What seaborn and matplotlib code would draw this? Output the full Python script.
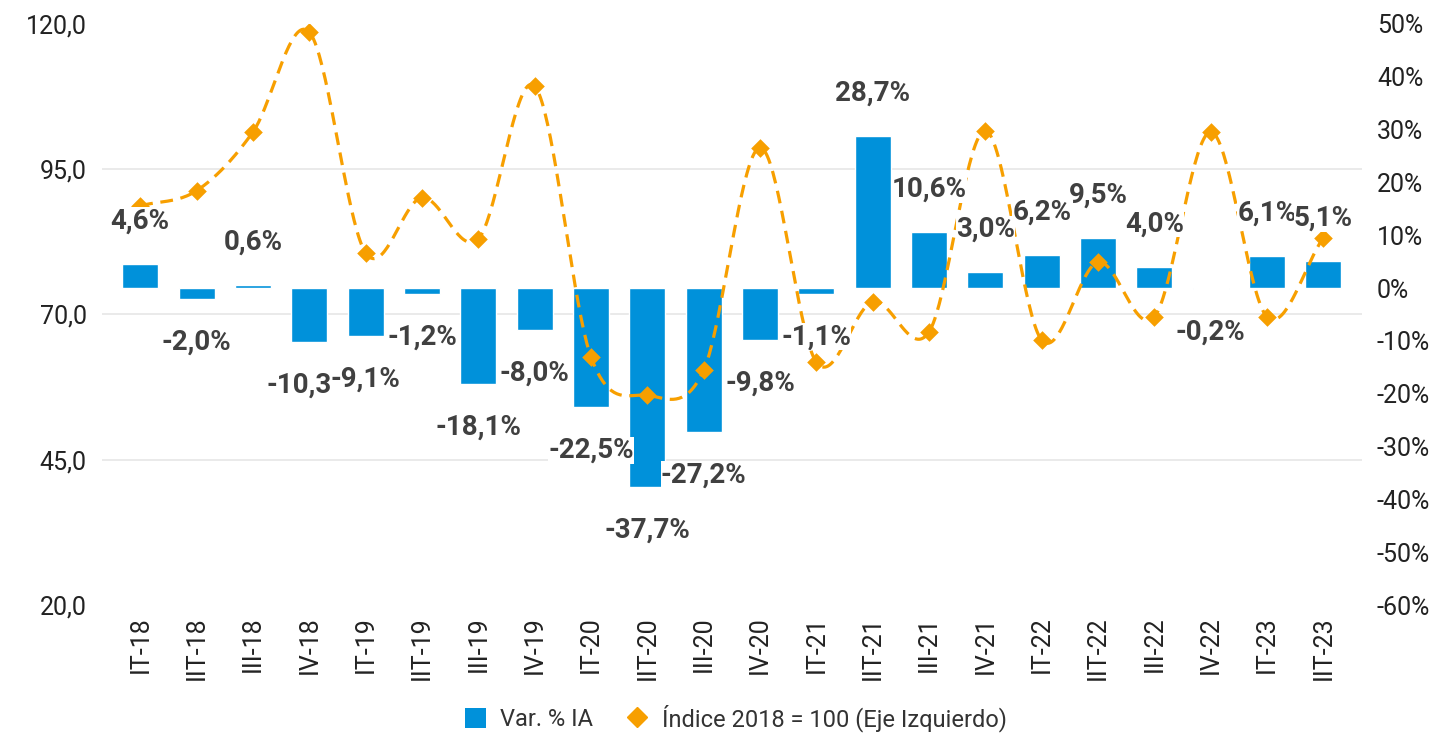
import numpy as np
import matplotlib
matplotlib.use("Agg")
import matplotlib.pyplot as plt
import seaborn as sns
from matplotlib.patches import Patch
from matplotlib.lines import Line2D

# -------------------
# DATA
# -------------------
quarters = ["IT-18", "IIT-18", "III-18", "IV-18",
            "IT-19", "IIT-19", "III-19", "IV-19",
            "IT-20", "IIT-20", "III-20", "IV-20",
            "IT-21", "IIT-21", "III-21", "IV-21",
            "IT-22", "IIT-22", "III-22", "IV-22",
            "IT-23", "IIT-23"]

var_ia = [4.6, -2.0, 0.6, -10.3,
          -9.1, -1.2, -18.1, -8.0,
          -22.5, -37.7, -27.2, -9.8,
          -1.1, 28.7, 10.6, 3.0,
          6.2, 9.5, 4.0, -0.2,
          6.1, 5.1]

indice = [88.7, 91.3, 101.4, 118.6,
          80.6, 90.1, 83.0, 109.3,
          62.7, 56.1, 60.4, 98.7,
          61.8, 72.2, 67.0, 101.6,
          65.6, 79.0, 69.6, 101.4,
          69.6, 83.2]

left_ticks = [20, 45, 70, 95, 120]
right_ticks = list(range(-60, 51, 10))

BLUE = "#0091DA"
ORANGE = "#F79F00"
LABEL = "#404040"
TICK = "#222222"

# -------------------
# STYLE
# -------------------
sns.set_style("white")
plt.rcParams["font.family"] = ["Roboto", "DejaVu Sans"]

fig = plt.figure(figsize=(14.48, 7.47), dpi=100)
ax = fig.add_axes([0.0704, 0.190, 0.870, 0.778])
ax2 = ax.twinx()

# -------------------
# BARS (right axis)
# -------------------
sns.barplot(x=quarters, y=var_ia, ax=ax, color=BLUE, saturation=1,
            width=0.64, zorder=2)
ax.set_xlim(-0.68, len(quarters) - 1 + 0.68)
ax.set_ylim(-60, 50)
ax.set_yticks(right_ticks)
ax.set_yticklabels([f"{v}%" for v in right_ticks])

# gridlines follow the left axis ticks
grid_pos = np.interp(left_ticks, [20, 120], [-60, 50])
ax.set_yticks(grid_pos, minor=True)
ax.grid(False)
ax.grid(which="minor", axis="y", color="#E6E6E6", linewidth=1.2, zorder=0)
ax.set_axisbelow(True)

# -------------------
# LINE (left axis)
# -------------------
# smooth curve like Excel (Catmull-Rom)
x = np.arange(len(indice), dtype=float)
y = np.array(indice)
m = np.gradient(y)
xs, ys = [], []
for i in range(len(y) - 1):
    t = np.linspace(0, 1, 40)
    h00 = 2 * t**3 - 3 * t**2 + 1
    h10 = t**3 - 2 * t**2 + t
    h01 = -2 * t**3 + 3 * t**2
    h11 = t**3 - t**2
    xs.extend(x[i] + t)
    ys.extend(h00 * y[i] + h10 * m[i] + h01 * y[i + 1] + h11 * m[i + 1])
ax2.plot(xs, ys, color=ORANGE, linewidth=2.3, dashes=(4, 2.4), zorder=3)
sns.scatterplot(x=x, y=y, ax=ax2, marker="D", s=90, color=ORANGE,
                linewidth=0, zorder=4)

ax2.set_ylim(20, 120)
ax2.set_yticks(left_ticks)
ax2.set_yticklabels([f"{v:.1f}".replace(".", ",") for v in left_ticks])

# swap sides: bars' scale on the right, index scale on the left
ax.yaxis.tick_right()
ax2.yaxis.tick_left()

# -------------------
# DATA LABELS
# -------------------
for i, v in enumerate(var_ia):
    off = 31 if v >= 0 else -31
    ax2.annotate(f"{v:.1f}%".replace(".", ","),
                 xy=(i, np.interp(v, [-60, 50], [20, 120])),
                 xytext=(0, off), textcoords="offset points",
                 ha="center", va="center", fontsize=20, fontweight="bold",
                 color=LABEL, zorder=6,
                 bbox=dict(boxstyle="square,pad=0.0", fc="white", ec="none"))

# -------------------
# AXES CLEANUP
# -------------------
for a in (ax, ax2):
    for s in a.spines.values():
        s.set_visible(False)
    a.set_xlabel("")
    a.set_ylabel("")
ax.tick_params(axis="x", length=0, pad=8, labelsize=18, labelcolor=TICK,
               labelrotation=90)
ax.tick_params(axis="y", which="both", length=0, pad=11, labelsize=18,
               labelcolor=TICK)
ax2.tick_params(axis="y", length=0, pad=11, labelsize=18, labelcolor=TICK)

# -------------------
# LEGEND
# -------------------
handles = [Patch(facecolor=BLUE, edgecolor="none"),
           Line2D([], [], marker="D", color=ORANGE, linestyle="none",
                  markersize=10)]
fig.legend(handles, ["Var. % IA", "Índice 2018 = 100 (Eje Izquierdo)"],
           loc="lower center", bbox_to_anchor=(0.508, -0.008), ncol=2,
           frameon=False, fontsize=17, labelcolor="#333333",
           handlelength=0.9, handleheight=0.9, handletextpad=0.6,
           columnspacing=1.4)

fig.savefig("out.png", dpi=100)
